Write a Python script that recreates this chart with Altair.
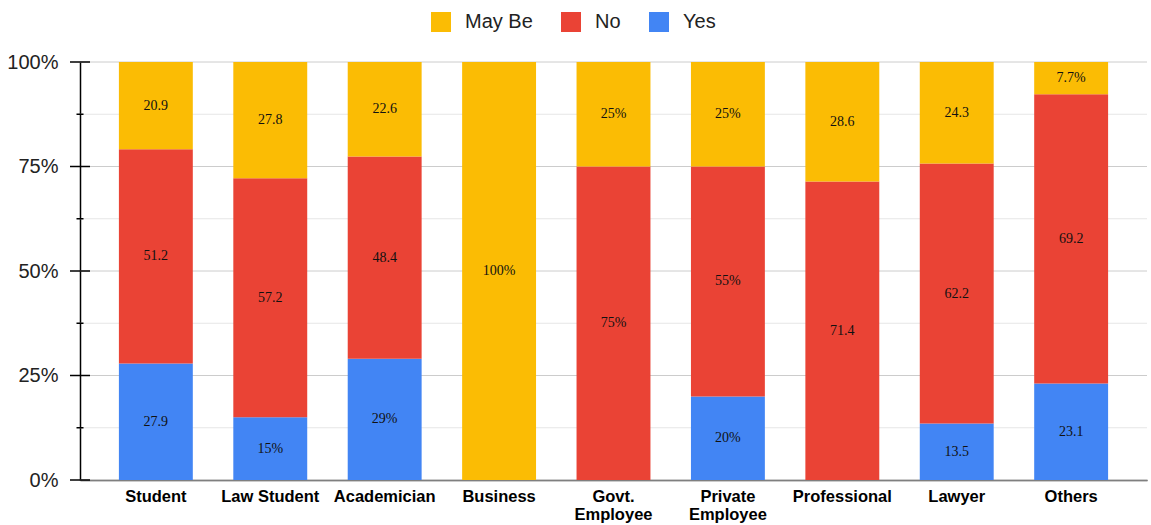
import altair as alt
import pandas as pd

categories = ["Student", "Law Student", "Academician", "Business", "Govt. Employee",
              "Private Employee", "Professional", "Lawyer", "Others"]
yes = [27.9, 15, 29, 0, 0, 20, 0, 13.5, 23.1]
no = [51.2, 57.2, 48.4, 0, 75, 55, 71.4, 62.2, 69.2]
maybe = [20.9, 27.8, 22.6, 100, 25, 25, 28.6, 24.3, 7.7]
yes_labels = ["27.9", "15%", "29%", "", "", "20%", "", "13.5", "23.1"]
no_labels = ["51.2", "57.2", "48.4", "", "75%", "55%", "71.4", "62.2", "69.2"]
maybe_labels = ["20.9", "27.8", "22.6", "100%", "25%", "25%", "28.6", "24.3", "7.7%"]

series = ["May Be", "No", "Yes"]
colors = ["#FBBC04", "#EA4335", "#4285F4"]
tick_values = [0, 0.125, 0.25, 0.375, 0.5, 0.625, 0.75, 0.875, 1.0]

rows = []
for i, c in enumerate(categories):
    for name, vals, labs, order in (("Yes", yes, yes_labels, 0),
                                    ("No", no, no_labels, 1),
                                    ("May Be", maybe, maybe_labels, 2)):
        rows.append({"category": c, "series": name, "value": vals[i],
                     "label": labs[i], "order": order})
df = pd.DataFrame(rows)
ticks = pd.DataFrame({"v": tick_values,
                      "major": [i % 2 == 0 for i in range(len(tick_values))]})

W, H = 1067, 418

xscale = alt.Scale(domain=categories, paddingInner=0.354, paddingOuter=0.34)
yscale = alt.Scale(domain=[0, 1], nice=False)

x_enc = alt.X("category:N", scale=xscale, sort=categories,
              axis=alt.Axis(title=None, labelAngle=0, labelFontWeight="bold",
                            labelFontSize=16.5, labelColor="#000", labelFont="Liberation Sans",
                            ticks=False, domainColor="#333", domainWidth=1.5,
                            labelPadding=8, labelLineHeight=18,
                            labelExpr="indexof(datum.label, 'Employee') > 0 ? split(datum.label, ' ') : datum.label"))

grid = alt.Chart(ticks).mark_rule(strokeWidth=1).encode(
    y=alt.Y("v:Q", scale=yscale,
            axis=alt.Axis(title=None, values=[0, 0.25, 0.5, 0.75, 1.0], format=".0%",
                          labelFontSize=20, labelColor="#222", labelFont="Liberation Sans",
                          ticks=False, domainColor="#000", domainWidth=1.5,
                          labelPadding=22, grid=False)),
    x=alt.value(0), x2=alt.value(W),
    color=alt.condition("datum.major", alt.value("#cccccc"), alt.value("#e6e6e6")),
)

base = alt.Chart(df).transform_stack(
    stack="value", as_=["v0", "v1"], groupby=["category"],
    sort=[alt.SortField("order", order="ascending")], offset="normalize"
)

bars = base.mark_bar().encode(
    x=x_enc,
    y=alt.Y("v0:Q", scale=yscale),
    y2="v1:Q",
    color=alt.Color("series:N", scale=alt.Scale(domain=series, range=colors),
                    legend=alt.Legend(title=None, orient="none", legendX=351, legendY=-50,
                                      direction="horizontal", symbolType="square",
                                      symbolSize=400, symbolStrokeWidth=0,
                                      labelFontSize=20, labelFont="Liberation Sans",
                                      labelColor="#222", labelOffset=14, columnPadding=28)),
)

text = base.transform_filter("datum.label != ''").transform_calculate(
    mid="(datum.v0 + datum.v1) / 2"
).mark_text(font="Liberation Serif", fontSize=14, color="#111").encode(
    x=alt.X("category:N", scale=xscale, sort=categories),
    y=alt.Y("mid:Q", scale=yscale),
    text="label:N",
)

major_ticks = alt.Chart(ticks).transform_filter("datum.major").mark_rule(
    color="#000", strokeWidth=1.5).encode(
    y=alt.Y("v:Q", scale=yscale), x=alt.value(-10), x2=alt.value(10))
minor_ticks = alt.Chart(ticks).transform_filter("!datum.major").mark_rule(
    color="#000", strokeWidth=1.5).encode(
    y=alt.Y("v:Q", scale=yscale), x=alt.value(-3.5), x2=alt.value(3.5))

chart = alt.layer(grid, bars, text, major_ticks, minor_ticks).properties(
    width=W, height=H,
    autosize=alt.AutoSizeParams(type="none"),
    padding={"left": 80, "top": 62, "right": 4, "bottom": 45},
    background="white",
).configure_view(stroke=None)

chart.save("out.html", embed_options={"renderer": "svg", "actions": False})
